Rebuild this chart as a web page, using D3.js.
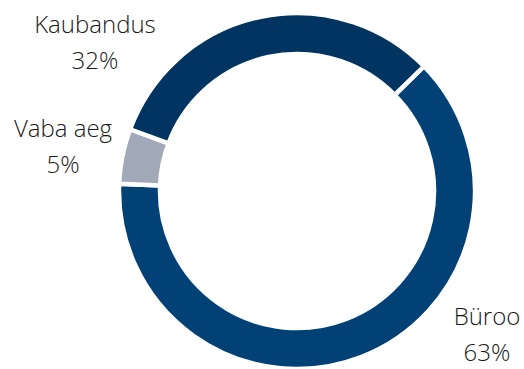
<html>
<head>
<meta charset="UTF-8">
<script src="https://cdnjs.cloudflare.com/ajax/libs/d3/7.8.5/d3.min.js"></script>
<style>
  body { margin: 0; background: #fff; }
  text { font-family: "Open Sans", sans-serif; font-weight: 300; }
</style>
</head>
<body>
<div id="chart"></div>
<script>
// data
var categories = ["Büroo", "Vaba aeg", "Kaubandus"];
var shares = [63, 5, 32];
var colors = ["#024176", "#a1a8b7", "#013460"];

// label spots (center of the two lines), set by hand like the original
var labelSpots = [[487, 325], [63, 137], [95, 33]];

var width = 524, height = 369;
var cx = 297, cy = 191,
    outerR = 178, innerR = 137;

var svg = d3.select("#chart")
  .append("svg")
    .attr("width", width)
    .attr("height", height);

var data = categories.map(function(c, i) {
  return { name: c, value: shares[i], color: colors[i], spot: labelSpots[i] };
});

var pie = d3.pie()
  .value(function(d) { return d.value; })
  .sort(null)
  .startAngle(45.5 * Math.PI / 180)
  .endAngle(405.5 * Math.PI / 180);

var arc = d3.arc()
  .innerRadius(innerR)
  .outerRadius(outerR);

var g = svg.append("g")
  .attr("transform", "translate(" + cx + "," + cy + ")");

g.selectAll("path")
  .data(pie(data))
  .enter()
  .append("path")
    .attr("d", arc)
    .style("fill", function(d) { return d.data.color; })
    .style("stroke", "#fff")
    .style("stroke-width", 4.5)
    .style("stroke-linejoin", "miter");

// labels: name then percent
var labels = svg.append("g")
  .selectAll("text")
  .data(data)
  .enter()
  .append("text")
    .attr("text-anchor", "middle")
    .attr("font-size", 24)
    .attr("fill", "#1a1a1a")
    .attr("x", function(d) { return d.spot[0]; })
    .attr("y", function(d) { return d.spot[1]; });

labels.append("tspan")
  .text(function(d) { return d.name; });
labels.append("tspan")
  .attr("x", function(d) { return d.spot[0]; })
  .attr("dy", 36)
  .text(function(d) { return d.value + "%"; });
</script>
</body>
</html>
